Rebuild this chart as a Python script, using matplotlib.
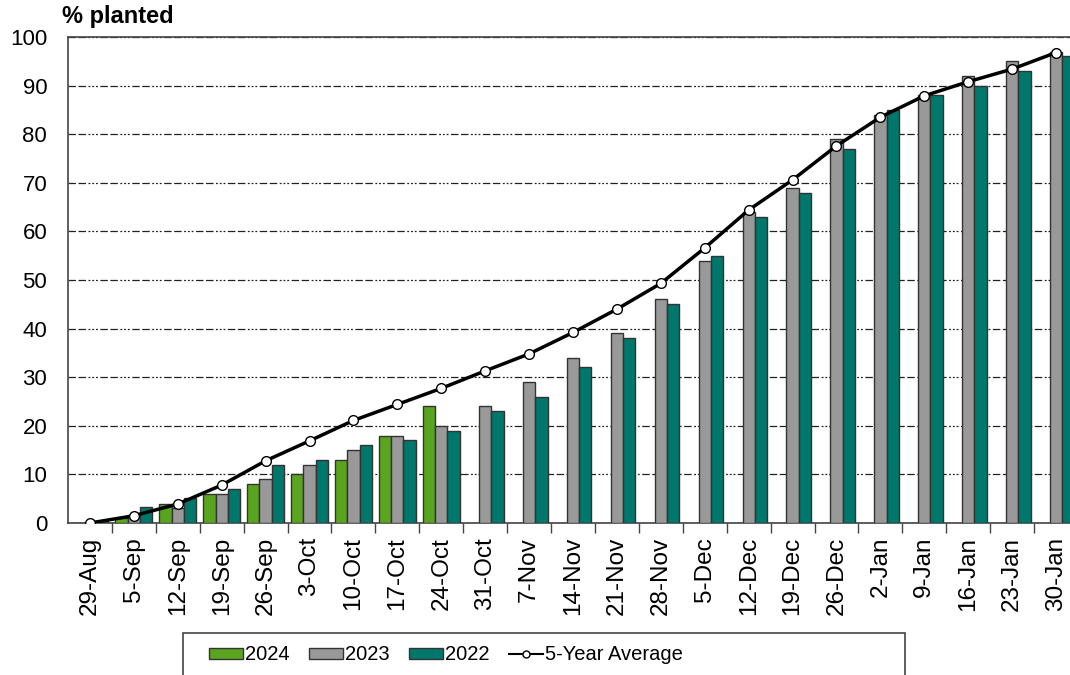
import matplotlib
matplotlib.use('Agg')
import matplotlib.pyplot as plt
import matplotlib.patches as mpatches
from matplotlib.lines import Line2D
import numpy as np

plt.rcParams['font.family'] = ['Liberation Sans', 'DejaVu Sans']

# Weekly planting progress (% planted)
weeks = ['29-Aug', '5-Sep', '12-Sep', '19-Sep', '26-Sep', '3-Oct', '10-Oct', '17-Oct',
         '24-Oct', '31-Oct', '7-Nov', '14-Nov', '21-Nov', '28-Nov', '5-Dec', '12-Dec',
         '19-Dec', '26-Dec', '2-Jan', '9-Jan', '16-Jan', '23-Jan', '30-Jan']
y2024 = [0, 1, 4, 6, 8, 10, 13, 18, 24]
y2023 = [0, 1.3, 3, 6, 9, 12, 15, 18, 20, 24, 29, 34, 39, 46, 54, 64, 69, 79, 84, 88, 92, 95, 97]
y2022 = [0.5, 3.2, 5.2, 7, 12, 13, 16, 17, 19, 23, 26, 32, 38, 45, 55, 63, 68, 77, 85, 88, 90, 93, 96]
avg5 = [0, 1.5, 3.9, 7.8, 12.8, 16.9, 21.1, 24.4, 27.7, 31.3, 34.8, 39.2, 44.0, 49.3, 56.6,
        64.4, 70.6, 77.6, 83.5, 87.9, 90.8, 93.4, 96.8]

c2024 = '#5AA51F'
c2023 = '#999999'
c2022 = '#00776B'

fig = plt.figure(figsize=(10.7, 6.75), dpi=100)
# plot area runs slightly past the right edge of the picture
ax = fig.add_axes([68 / 1070, 152 / 675, 1010 / 1070, 486 / 675])

x = np.arange(len(weeks))
w = 0.28
ax.bar(x[:len(y2024)] - w, y2024, w, color=c2024, edgecolor='#333333', linewidth=1, zorder=3)
ax.bar(x, y2023, w, color=c2023, edgecolor='#333333', linewidth=1, zorder=3)
ax.bar(x + w, y2022, w, color=c2022, edgecolor='#333333', linewidth=1, zorder=3)
ax.plot(x, avg5, color='black', linewidth=2.5, marker='o', markersize=7,
        markerfacecolor='white', markeredgecolor='black', markeredgewidth=1, zorder=4)

ax.set_xlim(-0.5, len(weeks) - 0.5)
ax.set_ylim(0, 100)
ax.set_yticks(range(0, 101, 10))
ax.tick_params(axis='y', length=0, pad=15, labelsize=16)
ax.set_xticks(x)
ax.set_xticklabels(weeks, rotation=90, fontsize=17.5)
ax.tick_params(axis='x', which='major', length=0, pad=10)
ax.set_xticks(np.arange(0.5, len(weeks), 1), minor=True)
ax.tick_params(axis='x', which='minor', length=7, width=1, color='#444444', direction='out')

ax.yaxis.grid(True, color='#222222', linewidth=0.9, linestyle=(0, (6, 2, 6, 2, 1.5, 1.5, 1.5, 1.5, 1.5, 2)))
ax.set_axisbelow(True)
for s in ax.spines.values():
    s.set_color('#444444')
    s.set_linewidth(1.2)

fig.text(62 / 1070, 1 - 5 / 675, '% planted', fontsize=17, fontweight='bold', va='top', ha='left')

# legend box, cut off by the bottom edge like the original
fig.patches.append(mpatches.Rectangle((183 / 1070, -0.05), 722 / 1070, (675 - 633) / 675 + 0.05,
                                      transform=fig.transFigure, facecolor='white',
                                      edgecolor='#444444', linewidth=1.2))
handles = [mpatches.Patch(facecolor=c2024, edgecolor='#333333', label='2024'),
           mpatches.Patch(facecolor=c2023, edgecolor='#333333', label='2023'),
           mpatches.Patch(facecolor=c2022, edgecolor='#333333', label='2022'),
           Line2D([], [], color='black', linewidth=1.5, marker='o', markersize=5,
                  markerfacecolor='white', markeredgecolor='black', label='5-Year Average')]
fig.legend(handles=handles, loc='center', bbox_to_anchor=(446 / 1070, 1 - 655 / 675), ncol=4,
           frameon=False, fontsize=14.5, handlelength=1.7, handleheight=0.5, handletextpad=0.1,
           columnspacing=0.95)

fig.savefig('out.png', dpi=100)
